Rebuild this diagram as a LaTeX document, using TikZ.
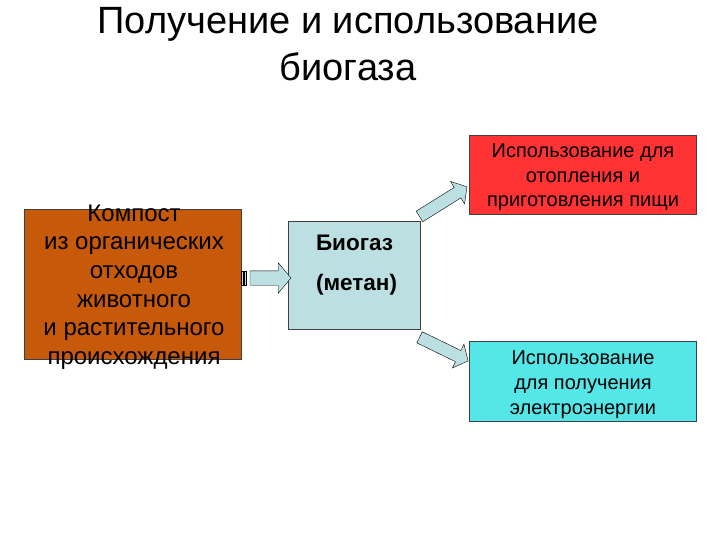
\documentclass[tikz,border=0pt]{standalone}
\usepackage{fontspec}
\setmainfont{Liberation Sans}
\usetikzlibrary{shapes.arrows}

\definecolor{compostfill}{HTML}{C65A0A}
\definecolor{gasfill}{HTML}{BCE0E2}
\definecolor{heatfill}{HTML}{FF3333}
\definecolor{powerfill}{HTML}{55E6E8}
\definecolor{edgegray}{HTML}{404040}

\begin{document}
\begin{tikzpicture}[x=1pt, y=-1pt,
        box/.style={draw=edgegray, thin, inner sep=0pt},
        boxtext/.style={align=center, font=\fontsize{20}{24.5}\selectfont},
        flow/.style={single arrow, draw=black, fill=gasfill, thin, inner xsep=0pt,
            inner ysep=6pt, single arrow head extend=7pt, single arrow tip angle=100},
        stripe/.style={draw=black, fill=gasfill, very thin}
    ]

    \useasboundingbox (0,0) rectangle (720,540);

    \node[align=center, font=\fontsize{38}{47}\selectfont] (title) at (348,44)
        {Получение и использование\\биогаза};

    \node[box, fill=compostfill, minimum width=217pt, minimum height=150pt] (compost) at (132.5,284) {};
    \node[align=center, font=\fontsize{24}{28.7}\selectfont] (composttext) at (134,287)
        {Компост\\ из органических\\отходов\\животного\\ и растительного\\происхождения};

    \node[box, fill=gasfill, minimum width=132pt, minimum height=108pt] (biogas) at (354,275) {};
    \node[align=left, font=\bfseries\fontsize{22.5}{40}\selectfont] (biogastext) at (356.5,265)
        {Биогаз\\(метан)};

    \node[box, fill=heatfill, minimum width=227pt, minimum height=79pt] (heating) at (582.5,174.5) {};
    \node[boxtext] (heatingtext) at (583,177.5)
        {Использование для\\отопления и\\приготовления пищи};

    \node[box, fill=powerfill, minimum width=227pt, minimum height=80pt] (power) at (582.5,381) {};
    \node[boxtext, font=\fontsize{20}{25}\selectfont] (powertext) at (583,384.5)
        {Использование\\ для получения\\электроэнергии};

    % arrows
    \draw[stripe] (241.5,271) rectangle (243.5,285);
    \draw[stripe] (244.5,271) rectangle (246,285);
    \node[flow, inner ysep=7pt, single arrow head extend=8pt, minimum height=41pt] (feed) at (267.5,278) {};

    \node[flow, minimum height=56pt, rotate=32] (toheat) at (441,203) {};
    \node[flow, minimum height=54pt, rotate=-26] (topower) at (441.5,348) {};
\end{tikzpicture}
\end{document}
